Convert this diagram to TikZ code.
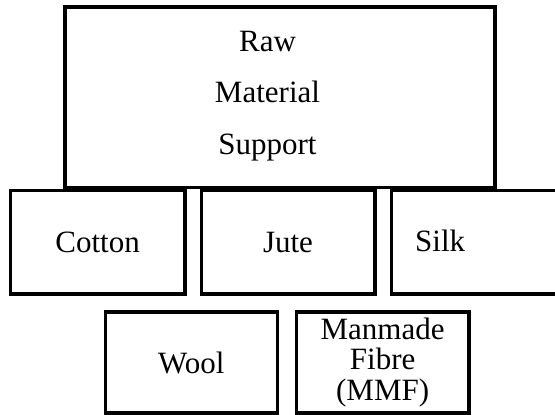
\documentclass[tikz,border=0pt]{standalone}
\usepackage{fontspec}
\setmainfont{Liberation Serif}
\begin{document}
\begin{tikzpicture}[x=1pt,y=-1pt,
  box/.style={draw=black, line width=3.6pt, rectangle, inner sep=0pt, outer sep=0pt,
    font=\fontsize{31}{32}\selectfont, align=center},
  txt/.style={inner sep=0pt, font=\fontsize{31}{32}\selectfont, align=center}]
\useasboundingbox (0,0) rectangle (555,415);
\node[box, minimum width=430pt, minimum height=180.5pt] (raw) at (279.7,97.25) {};
\node[txt, font=\fontsize{31}{51.5}\selectfont] (rawtext) at (267.5,96)
  {Raw\\Material\\Support};
\node[box, minimum width=174.2pt, minimum height=103.5pt] (cotton) at (97.6,242.25) {Cotton};
\node[box, minimum width=173.4pt, minimum height=103.5pt] (jute) at (288,242.25) {Jute};
\node[box, minimum width=174.2pt, minimum height=103.5pt] (silk) at (478.4,242.25) {};
\node[txt, anchor=base west] (silktext) at (415,251.5) {Silk};
\node[box, minimum width=172.2pt, minimum height=101pt] (wool) at (191.4,362.5) {Wool};
\node[box, minimum width=172.7pt, minimum height=101pt, font=\fontsize{31}{30.5}\selectfont] (mmf) at (382.65,362.5)
  {Manmade\\Fibre\\(MMF)};
\end{tikzpicture}
\end{document}
